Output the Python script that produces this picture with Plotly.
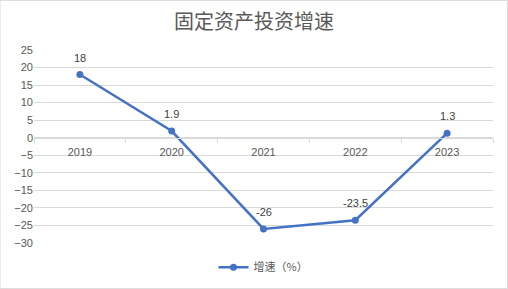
import plotly.graph_objects as go

years = ["2019", "2020", "2021", "2022", "2023"]
growth = [18, 1.9, -26, -23.5, 1.3]
y_min, y_max, y_step = -30, 25, 5

W, H = 508, 289
ml, mr, mt, mb = 34, 15, 50, 46

fig = go.Figure()
fig.add_trace(go.Scatter(
    x=years, y=growth, mode="lines+markers",
    name="增速（%）",
    line=dict(color="#4472C4", width=2.5),
    marker=dict(color="#4472C4", size=7),
    cliponaxis=False,
))

for i, v in enumerate(growth):
    fig.add_annotation(x=i, y=v, xref="x", yref="y", text=str(v), showarrow=False, yshift=17,
                       font=dict(size=11, color="#404040", family="Liberation Sans, sans-serif"))

zero_pos = (0 - y_min) / (y_max - y_min)

fig.update_layout(
    width=W, height=H,
    margin=dict(l=ml, r=mr, t=mt, b=mb, autoexpand=False),
    paper_bgcolor="white", plot_bgcolor="white",
    font=dict(family="Noto Sans CJK SC, Liberation Sans, sans-serif", color="#595959"),
    title=dict(text="固定资产投资增速", x=0.5, xanchor="center", y=1 - 22 / H,
               yanchor="middle", font=dict(size=20, color="#595959")),
    xaxis=dict(
        type="category", anchor="free", position=zero_pos, range=[-0.5, len(years) - 0.5],
        showline=True, linecolor="#d9d9d9", linewidth=1,
        ticks="outside", tickson="boundaries", ticklen=4, tickcolor="#d9d9d9",
        showgrid=False, tickfont=dict(size=11, color="#595959", family="Liberation Sans, sans-serif"),
        ticklabelstandoff=4,
    ),
    yaxis=dict(
        range=[y_min, y_max], dtick=y_step, tick0=0,
        showgrid=True, gridcolor="#d9d9d9", gridwidth=1,
        zeroline=False, showline=False, ticks="",
        tickfont=dict(size=11, color="#595959", family="Liberation Sans, sans-serif"),
    ),
    showlegend=True,
    legend=dict(orientation="h", x=0.5, xanchor="center", y=-0.125, yanchor="middle",
                font=dict(size=11, color="#595959")),
    shapes=[dict(type="rect", xref="paper", yref="paper", x0=-ml / (W - ml - mr), x1=1 + mr / (W - ml - mr) - 0.001,
                 y0=-mb / (H - mt - mb) + 0.002, y1=1 + mt / (H - mt - mb) - 0.002,
                 line=dict(color="#d9d9d9", width=1))],
)

fig.write_html("out.html")
